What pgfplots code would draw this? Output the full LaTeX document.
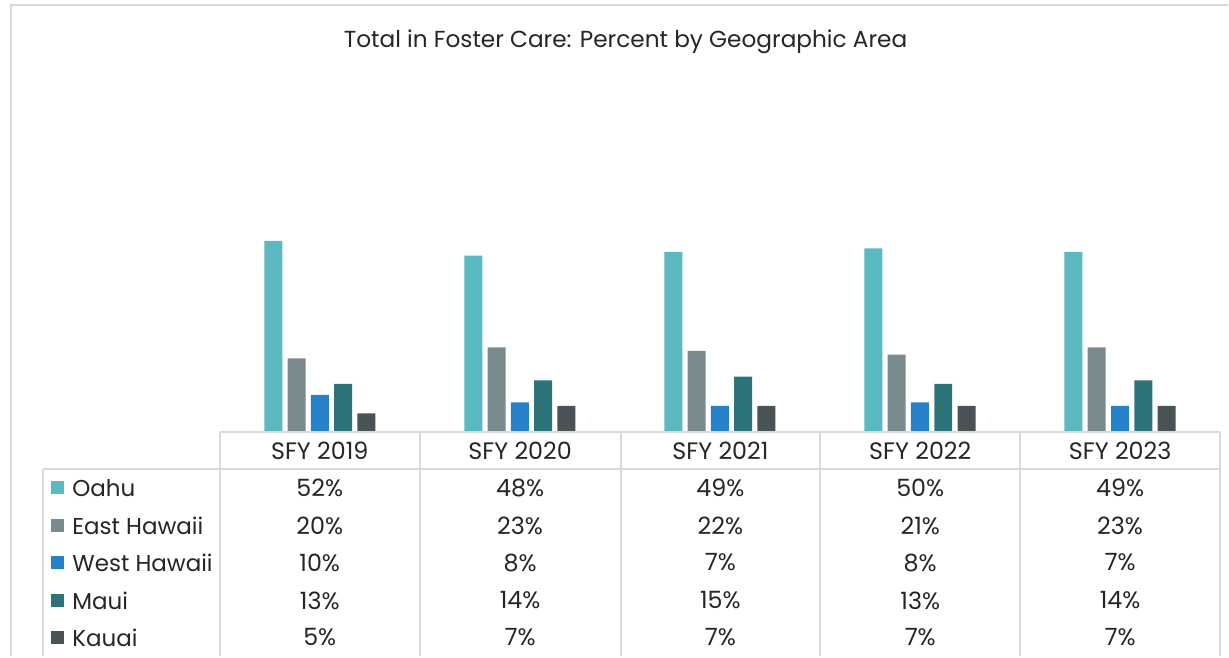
\documentclass[border=0pt]{standalone}
\usepackage{pgfplots}
\pgfplotsset{compat=1.18}
\usepackage{fontspec}
\setmainfont{Poppins}
\definecolor{cOahu}{HTML}{5AB8C1}
\definecolor{cEast}{HTML}{7A8B8E}
\definecolor{cWest}{HTML}{2682C8}
\definecolor{cMaui}{HTML}{2D7478}
\definecolor{cKauai}{HTML}{4A5456}
\definecolor{gridc}{HTML}{D9D9D9}
\definecolor{txt}{HTML}{262626}
\begin{document}
\begin{tikzpicture}
\begin{scope}[x=0.5pt,y=-0.5pt]
\useasboundingbox (0,0) rectangle (1229,657);
\fill[white] (0,0) rectangle (1229,657);
\end{scope}
\begin{axis}[at={(110pt,-216pt)}, anchor=south west, scale only axis,
  width=500.5pt, height=183.5pt, xmin=-0.5, xmax=4.5, ymin=0, ymax=100,
  hide axis, ybar=2.65pt, bar width=9pt, clip=false]
\addplot[fill=cOahu,draw=none] coordinates {(0,52)(1,48)(2,49)(3,50)(4,49)};
\addplot[fill=cEast,draw=none] coordinates {(0,20)(1,23)(2,22)(3,21)(4,23)};
\addplot[fill=cWest,draw=none] coordinates {(0,10)(1,8)(2,7)(3,8)(4,7)};
\addplot[fill=cMaui,draw=none] coordinates {(0,13)(1,14)(2,15)(3,13)(4,14)};
\addplot[fill=cKauai,draw=none] coordinates {(0,5)(1,7)(2,7)(3,7)(4,7)};
\end{axis}
\begin{scope}[x=0.5pt,y=-0.5pt]
% outer border
\draw[gridc,line width=1pt] (11,657) -- (11,5) -- (1229,5);
% table lines
\draw[gridc,line width=1pt] (220,432) -- (1221,432);
\draw[gridc,line width=1pt] (43,469) -- (1221,469);
\foreach \x in {220,420,621,821,1021,1221}
  \draw[gridc,line width=1pt] (\x,432) -- (\x,657);
\draw[gridc,line width=1pt] (43,469) -- (43,657);
% title
\node[txt,font=\fontsize{11.6pt}{13pt}\selectfont] at (626,42) {Total in Foster Care: Percent by Geographic Area};
% header
\foreach \x/\t in {320/SFY 2019,520.5/SFY 2020,721/SFY 2021,921/SFY 2022,1121/SFY 2023}
  \node[txt,font=\fontsize{11.9pt}{13pt}\selectfont] at (\x,451) {\t};
% row labels
\foreach \y/\c/\t in {488/cOahu/Oahu,526/cEast/East Hawaii,563/cWest/West Hawaii,601/cMaui/Maui,638/cKauai/Kauai}{
  \fill[\c] (51,\y-6.5) rectangle (64,\y+6.5);
  \node[txt,anchor=west,inner sep=0pt,font=\fontsize{11.5pt}{13pt}\selectfont] at (72,\y) {\t};
}
% values
\foreach \x/\a/\b/\c/\d/\e in {320/52/20/10/13/5,520.5/48/23/8/14/7,721/49/22/7/15/7,921/50/21/8/13/7,1121/49/23/7/14/7}{
  \node[txt,font=\fontsize{11.9pt}{13pt}\selectfont] at (\x,488) {\a\%};
  \node[txt,font=\fontsize{11.9pt}{13pt}\selectfont] at (\x,526) {\b\%};
  \node[txt,font=\fontsize{11.9pt}{13pt}\selectfont] at (\x,563) {\c\%};
  \node[txt,font=\fontsize{11.9pt}{13pt}\selectfont] at (\x,601) {\d\%};
  \node[txt,font=\fontsize{11.9pt}{13pt}\selectfont] at (\x,638) {\e\%};
}
\end{scope}
\end{tikzpicture}
\end{document}
